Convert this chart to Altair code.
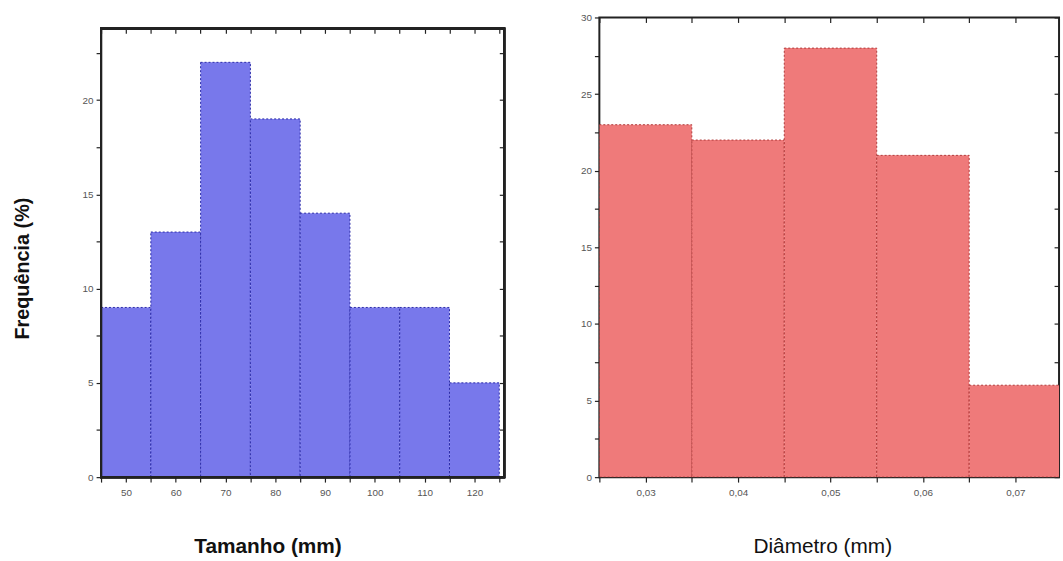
import altair as alt
import pandas as pd

# Left histogram: Tamanho (mm)
tam_start = [45, 55, 65, 75, 85, 95, 105, 115]
tam_end = [55, 65, 75, 85, 95, 105, 115, 125]
tam_freq = [9, 13, 22, 19, 14, 9, 9, 5]

# Right histogram: Diâmetro (mm)
dia_start = [0.025, 0.035, 0.045, 0.055, 0.065]
dia_end = [0.035, 0.045, 0.055, 0.065, 0.075]
dia_freq = [23, 22, 28, 21, 6]

tam_xticks = [45, 50, 55, 60, 65, 70, 75, 80, 85, 90, 95, 100, 105, 110, 115, 120, 125]
tam_yticks = [0, 2.5, 5, 7.5, 10, 12.5, 15, 17.5, 20, 22.5]
dia_xticks = [0.025, 0.03, 0.035, 0.04, 0.045, 0.05, 0.055, 0.06, 0.065, 0.07]
dia_yticks = [0, 2.5, 5, 7.5, 10, 12.5, 15, 17.5, 20, 22.5, 25, 27.5, 30]

# axis ranges (frame of each panel)
tam_xrange = [45, 126]
tam_yframe = [0, 23.8]
tam_yscale = [0, 24.38]
dia_xrange = [0.025, 0.07472]
dia_yrange = [0, 30]

FONT = "Liberation Sans"

df_t = pd.DataFrame({"start": tam_start, "end": tam_end, "freq": tam_freq})
df_d = pd.DataFrame({"start": dia_start, "end": dia_end, "freq": dia_freq})


def panel(df, xdom, ydom, xticks, yticks, fill, stroke, w, h, xtitle, title_x,
          title_weight, ytitle, xlabel_expr, ylabel_expr, top_offset=-5,
          frame=None, ytitle_y=None):
    xs = alt.Scale(domain=xdom, nice=False, zero=False)
    ys = alt.Scale(domain=ydom, nice=False, zero=True)
    base = alt.Chart(df)
    yaxis_kw = dict(values=yticks, labelExpr=ylabel_expr,
                    title=ytitle, tickSize=5, tickColor="#222",
                    tickWidth=1.2, domain=False, grid=False,
                    labelFontSize=10, labelColor="#555", labelFont=FONT,
                    labelPadding=3, titleFont=FONT, titleFontSize=20,
                    titleFontWeight="bold", titleColor="#111",
                    titlePadding=50, labelFlush=False)
    if ytitle_y is not None:
        yaxis_kw["titleY"] = ytitle_y
    bars = base.mark_bar(fill=fill, stroke=stroke, strokeWidth=1,
                         strokeDash=[2, 2], clip=True).encode(
        x=alt.X("start:Q", scale=xs,
                axis=alt.Axis(values=xticks, labelExpr=xlabel_expr, title=xtitle,
                              tickSize=5, tickColor="#222", tickWidth=1.2,
                              domain=False, grid=False,
                              labelFontSize=10, labelColor="#555", labelFont=FONT,
                              labelPadding=6, titleFont=FONT, titleFontSize=21,
                              titleFontWeight=title_weight, titleColor="#111",
                              titlePadding=38, titleX=title_x, titleAnchor="start",
                              titleAlign="center", labelFlush=False)),
        x2="end:Q",
        y=alt.Y("freq:Q", scale=ys, axis=alt.Axis(**yaxis_kw)),
        y2=alt.datum(0),
    )
    mirror = base.mark_bar(opacity=0).encode(
        x=alt.X("start:Q", scale=xs,
                axis=alt.Axis(orient="top", values=xticks, labels=False, title=None,
                              tickSize=5, tickColor="#222", tickWidth=1.2,
                              domain=False, grid=False, offset=top_offset)),
        x2="end:Q",
        y=alt.Y("freq:Q", scale=ys,
                axis=alt.Axis(orient="right", values=yticks, labels=False, title=None,
                              tickSize=5, tickColor="#222", tickWidth=1.2,
                              domain=False, grid=False, offset=-5)),
        y2=alt.datum(0),
    )
    layers = [bars, mirror]
    props = dict(width=w, height=h)
    if frame is not None:
        box = alt.Chart(df).mark_rect(fill="transparent", stroke="#222",
                                      strokeWidth=2).encode(
            x=alt.XDatum(frame[0][0], scale=xs, axis=None),
            x2=alt.X2Datum(frame[0][1]),
            y=alt.YDatum(frame[1][0], scale=ys, axis=None),
            y2=alt.Y2Datum(frame[1][1]),
        )
        layers.append(box)
        props["view"] = alt.ViewBackground(stroke="transparent")
    else:
        props["view"] = alt.ViewBackground(stroke="#222", strokeWidth=2)
    ch = alt.layer(*layers).resolve_axis(x="independent", y="independent")
    return ch.properties(**props)


left = panel(df_t, tam_xrange, tam_yscale, tam_xticks, tam_yticks, "#7878eb", "#2a2aa8",
             407, 464, "Tamanho (mm)", 168, "bold", "Frequência (%)",
             "datum.value % 10 == 0 ? datum.label : ''",
             "datum.value % 5 == 0 ? datum.label : ''",
             top_offset=-16, frame=[tam_xrange, tam_yframe], ytitle_y=253)
right = panel(df_d, dia_xrange, dia_yrange, dia_xticks, dia_yticks, "#ef7a7a", "#b03a3a",
              464, 464, "Diâmetro (mm)", 225, "normal", None,
              "abs(datum.value*100 - round(datum.value*100)) < 0.001 ? replace(format(datum.value, '.2f'), '.', ',') : ''",
              "datum.value % 5 == 0 ? datum.label : ''")

chart = alt.hconcat(left, right, spacing=73).properties(
    padding={"left": 12, "top": 9, "right": 0, "bottom": 0})

chart.save("out.html", embed_options={"renderer": "svg", "actions": False})
